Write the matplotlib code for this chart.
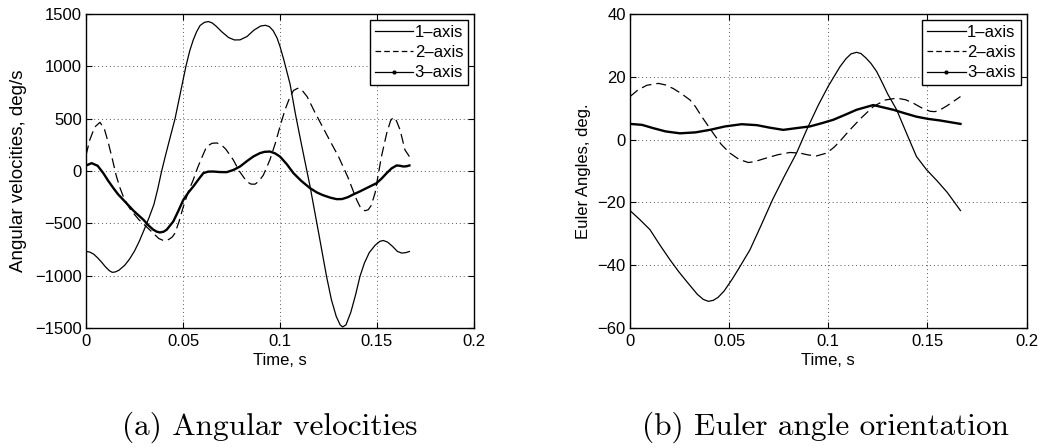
import matplotlib
matplotlib.use("Agg")
import matplotlib.pyplot as plt
from matplotlib.lines import Line2D

# ---------------- data ----------------
series_labels = ["1–axis", "2–axis", "3–axis"]

# (a) Angular velocities, deg/s
av1_t = [0, 0.002, 0.004, 0.006, 0.008, 0.010, 0.012, 0.0135, 0.015, 0.017, 0.02, 0.0225,
         0.025, 0.0275, 0.03, 0.0325, 0.035, 0.037, 0.039, 0.041, 0.0435, 0.0459, 0.0487,
         0.0515, 0.0535, 0.0553, 0.057, 0.0588, 0.061, 0.0631, 0.065, 0.067, 0.07, 0.0735,
         0.0765, 0.0794, 0.083, 0.0865, 0.09, 0.0925, 0.0945, 0.0965, 0.0985, 0.1, 0.102,
         0.1052, 0.108, 0.111, 0.1155, 0.12, 0.124, 0.1265, 0.129, 0.131, 0.1323, 0.134,
         0.1365, 0.139, 0.1412, 0.1435, 0.146, 0.149, 0.1515, 0.1533, 0.1555, 0.158, 0.1605,
         0.1627, 0.1648, 0.1667]
av1_v = [-768, -775, -795, -830, -870, -915, -952, -968, -965, -948, -900, -840,
         -765, -670, -560, -445, -320, -170, 0, 150, 330, 500, 750,
         1000, 1150, 1253, 1330, 1390, 1420, 1428, 1415, 1385, 1330, 1275,
         1252, 1253, 1285, 1345, 1385, 1392, 1380, 1340, 1270, 1190, 1060,
         830, 540, 260, -148, -600, -1008, -1230, -1390, -1470, -1490, -1470,
         -1350, -1180, -1008, -880, -780, -710, -672, -664, -680, -720, -768,
         -784, -780, -769]

av2_t = [0, 0.002, 0.0045, 0.0072, 0.0095, 0.0115, 0.0135, 0.0157, 0.0175, 0.0192, 0.021,
         0.023, 0.027, 0.031, 0.035, 0.0375, 0.0399, 0.0415, 0.043, 0.0445, 0.0459, 0.048,
         0.0502, 0.0527, 0.0553, 0.0575, 0.0595, 0.0622, 0.065, 0.0675, 0.07, 0.072, 0.0759,
         0.079, 0.0828, 0.085, 0.0871, 0.089, 0.0914, 0.0948, 0.0975, 0.1, 0.1025, 0.1052,
         0.107, 0.1091, 0.111, 0.114, 0.118, 0.122, 0.126, 0.1301, 0.135, 0.1395, 0.1415,
         0.1438, 0.1455, 0.147, 0.149, 0.1505, 0.1523, 0.155, 0.157, 0.1584, 0.16, 0.1619,
         0.1644, 0.1667]
av2_v = [150, 300, 420, 465, 400, 270, 120, -52, -160, -243, -310,
         -370, -460, -530, -600, -645, -664, -665, -650, -630, -593, -480,
         -339, -200, -84, 30, 120, 234, 265, 268, 245, 210, 107,
         0, -100, -125, -126, -100, -40, 107, 260, 425, 580, 711,
         770, 790, 780, 710, 560, 420, 280, 140, -60, -275, -350,
         -380, -370, -330, -211, -50, 139, 361, 480, 514, 480, 393,
         202, 138]

av3_t = [0, 0.0029, 0.006, 0.0089, 0.0115, 0.0141, 0.0165, 0.0192, 0.0245, 0.0296, 0.0325,
         0.0347, 0.0365, 0.0381, 0.04, 0.0416, 0.045, 0.0475, 0.0502, 0.0528, 0.0553, 0.058,
         0.0605, 0.063, 0.0656, 0.069, 0.0725, 0.076, 0.0794, 0.083, 0.0863, 0.0897, 0.092,
         0.0948, 0.0975, 0.1, 0.1035, 0.1069, 0.111, 0.1155, 0.119, 0.122, 0.126, 0.1292,
         0.132, 0.135, 0.138, 0.1412, 0.145, 0.1498, 0.1525, 0.155, 0.1575, 0.1601, 0.1618,
         0.1636, 0.1652, 0.1667]
av3_v = [52, 75, 50, -20, -95, -163, -222, -275, -380, -466, -525,
         -561, -580, -587, -580, -561, -482, -385, -275, -205, -148, -80,
         -20, -6, -5, -10, -11, 10, 43, 95, 139, 171, 183,
         186, 168, 138, 65, -20, -95, -164, -205, -230, -255, -269,
         -268, -250, -222, -195, -160, -116, -70, -20, 25, 53, 50,
         43, 45, 53]

# (b) Euler angles, deg
ea1_t = [0, 0.005, 0.0101, 0.015, 0.0202, 0.0245, 0.0286, 0.034, 0.037, 0.0395, 0.042,
         0.0445, 0.0475, 0.0515, 0.0555, 0.0605, 0.066, 0.072, 0.078, 0.084, 0.0891, 0.095,
         0.1, 0.1059, 0.109, 0.1115, 0.1143, 0.1165, 0.119, 0.1215, 0.1244, 0.1275, 0.13,
         0.1345, 0.1395, 0.1445, 0.1496, 0.155, 0.16, 0.1667]
ea1_v = [-22.6, -25.5, -28.7, -33.5, -38.3, -42, -45.2, -49.3, -50.9, -51.5, -51.2,
         -50.2, -48.2, -44.5, -40.4, -35.1, -27.5, -19, -11.5, -4.3, 3.1, 11,
         17, 23.2, 25.8, 27.3, 27.8, 27.4, 26, 24.3, 21.7, 17.8, 14.5,
         9.5, 2, -5.4, -9.6, -13.2, -16.8, -22.6]

ea2_t = [0, 0.004, 0.0085, 0.0143, 0.018, 0.022, 0.026, 0.0303, 0.033, 0.036, 0.042,
         0.046, 0.0504, 0.055, 0.0597, 0.063, 0.067, 0.0747, 0.0807, 0.0857, 0.09, 0.0941,
         0.0992, 0.103, 0.1059, 0.1109, 0.1168, 0.1227, 0.1287, 0.1345, 0.139, 0.1429,
         0.148, 0.1515, 0.1538, 0.1565, 0.16, 0.1667]
ea2_v = [13.7, 15.8, 17.3, 17.9, 17.4, 16.2, 14.6, 12.6, 10.5, 7.5, 2,
         -1.5, -4.3, -6.3, -7.3, -7, -6.2, -4.8, -4.1, -4.3, -4.9, -5.2,
         -4.3, -2.4, -0.5, 3.1, 7, 10.5, 12.6, 13.2, 12.7, 11.6,
         9.8, 9, 8.9, 9.5, 10.8, 13.7]

ea3_t = [0, 0.006, 0.012, 0.018, 0.0252, 0.033, 0.0403, 0.048, 0.0563, 0.064, 0.0705,
         0.0773, 0.0857, 0.0908, 0.0966, 0.1025, 0.1085, 0.1143, 0.1227, 0.1328, 0.1385,
         0.1445, 0.1503, 0.1563, 0.1667]
ea3_v = [5, 4.7, 3.6, 2.6, 2, 2.3, 3.1, 4.2, 4.9, 4.6, 3.8,
         3.1, 3.8, 4.2, 5.2, 6.3, 7.9, 9.5, 11, 9.5, 8.4,
         7.3, 6.6, 6.1, 5]

x_ticks = [0, 0.05, 0.1, 0.15, 0.2]
x_ticklabels = ["0", "0.05", "0.1", "0.15", "0.2"]
av_ticks = [-1500, -1000, -500, 0, 500, 1000, 1500]
av_ticklabels = ["−1500", "−1000", "−500", "0", "500", "1000", "1500"]
ea_ticks = [-60, -40, -20, 0, 20, 40]
ea_ticklabels = ["−60", "−40", "−20", "0", "20", "40"]

x_label = "Time, s"
av_ylabel = "Angular velocities, deg/s"
ea_ylabel = "Euler Angles, deg."
caption_a = "(a) Angular velocities"
caption_b = "(b) Euler angle orientation"

# ---------------- figure ----------------
plt.rcParams["font.family"] = ["Liberation Sans", "DejaVu Sans"]
W, H = 1046, 447
fig = plt.figure(figsize=(W / 100, H / 100), dpi=100)

def px_axes(x0, x1, y0, y1):
    return fig.add_axes([x0 / W, 1 - y1 / H, (x1 - x0) / W, (y1 - y0) / H])

axA = px_axes(86, 474, 14, 328)
axB = px_axes(630, 1026.5, 14, 328)

def style(ax, yticks, yticklabels, ylim, ylabel, ylab_x, ylab_size):
    ax.set_xlim(0, 0.2)
    ax.set_ylim(*ylim)
    ax.set_xticks(x_ticks)
    ax.set_xticklabels(x_ticklabels)
    ax.set_yticks(yticks)
    ax.set_yticklabels(yticklabels)
    ax.tick_params(direction="in", length=4, width=0.8, top=True, right=True,
                   labelsize=12, pad=4, colors="black")
    ax.tick_params(axis="y", pad=3)
    for s in ax.spines.values():
        s.set_linewidth(1.0)
        s.set_color("black")
    ax.grid(True, color="0.35", linestyle=(0, (1, 3)), linewidth=0.7)
    ax.set_axisbelow(True)
    ax.set_xlabel(x_label, fontsize=12, labelpad=3)
    ax.set_ylabel(ylabel, fontsize=ylab_size)
    ax.yaxis.set_label_coords(ylab_x, 0.5)

def draw(ax, s1, s2, s3):
    ax.plot(s1[0], s1[1], color="black", lw=0.9, linestyle="-")
    ax.plot(s2[0], s2[1], color="black", lw=0.9, linestyle=(0, (8, 4)))
    ax.plot(s3[0], s3[1], color="black", lw=1.7, linestyle="-")
    handles = [
        Line2D([], [], color="black", lw=0.9),
        Line2D([], [], color="black", lw=0.9, linestyle=(0, (4.5, 2.5))),
        Line2D([], [], color="black", lw=0.9, marker=".", markersize=4),
    ]
    leg = ax.legend(handles, series_labels, loc="upper right", fontsize=12,
                    handlelength=2.3, handletextpad=0.1, labelspacing=0.32,
                    borderpad=0.3, borderaxespad=0.35, fancybox=False,
                    framealpha=1, edgecolor="black", numpoints=1)
    leg.get_frame().set_linewidth(1.0)

draw(axA, (av1_t, av1_v), (av2_t, av2_v), (av3_t, av3_v))
draw(axB, (ea1_t, ea1_v), (ea2_t, ea2_v), (ea3_t, ea3_v))
style(axA, av_ticks, av_ticklabels, (-1500, 1500), av_ylabel, -0.152, 13.5)
style(axB, ea_ticks, ea_ticklabels, (-60, 40), ea_ylabel, -0.098, 12)

fig.text(270 / W, 1 - 435 / H, caption_a, family="cmr10", fontsize=22.5,
         ha="center", va="baseline")
fig.text(825 / W, 1 - 435 / H, caption_b, family="cmr10", fontsize=22.5,
         ha="center", va="baseline")

fig.savefig("out.png", dpi=100)
